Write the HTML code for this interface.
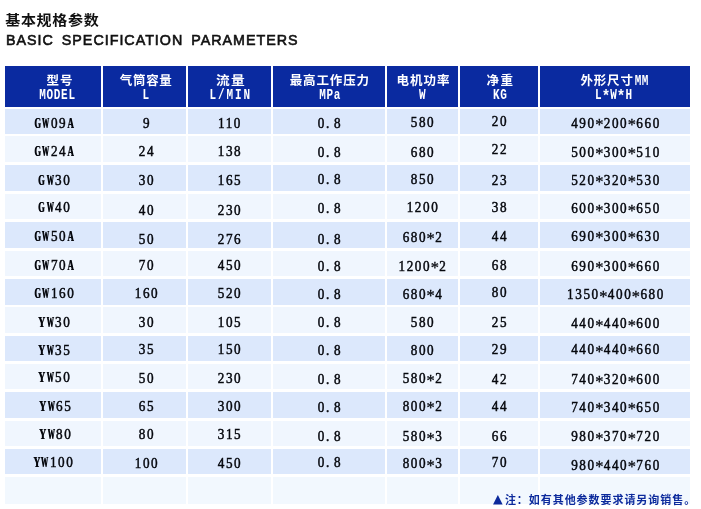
<!DOCTYPE html>
<html lang="zh-CN">
<head>
<meta charset="utf-8">
<title>基本规格参数</title>
<style>

html,body{margin:0;padding:0;background:#fff;}
body{width:701px;height:509px;position:relative;overflow:hidden;font-family:"Liberation Sans","Noto Sans CJK SC",sans-serif;}
.page{position:absolute;left:0;top:0;width:701px;height:509px;will-change:transform;}
.t1{position:absolute;left:5.2px;top:8.6px;font:bold 15px/22px "Liberation Sans","Noto Sans CJK SC",sans-serif;letter-spacing:0.7px;color:#111;white-space:nowrap;transform:scaleY(0.93);transform-origin:0 50%;}
.t2{position:absolute;left:6px;top:29.4px;font:normal 14.3px/22px "Liberation Sans","Noto Sans CJK SC",sans-serif;letter-spacing:0.99px;word-spacing:3px;color:#111;-webkit-text-stroke:0.6px #111;white-space:nowrap;}
.hd{position:absolute;top:66px;height:41px;background:#0a2aa0;}
.hc,.he{position:absolute;width:200px;margin-left:-100px;text-align:center;color:#fff;white-space:nowrap;}
.hc{top:72.3px;font:bold 12.5px/18px "Liberation Sans","Noto Sans CJK SC",sans-serif;}
.hc .mm{font:bold 11px/18px "Liberation Mono","Noto Sans CJK SC",monospace;display:inline-block;transform:scaleY(1.28);transform-origin:50% 72%;letter-spacing:0.4px;margin-left:1px;}
.he{top:88px;font:bold 11px/16px "Liberation Mono","Noto Sans CJK SC",monospace;transform:scaleY(1.3);transform-origin:50% 72%;}
.he .ha{display:inline-block;transform:translateY(1.3px) scale(1.3,1.15);}
.bd{position:absolute;left:5px;width:685px;}
.sp{position:absolute;top:60px;height:449px;background:#fff;}
.d{background:#dce8fc;}
.l{background:#f0f6fe;}
.f{background:#f2f8fe;}
.v{position:absolute;width:160px;margin-left:-80px;text-align:center;font:normal 14px/20px "Liberation Serif","Noto Serif CJK SC",serif;letter-spacing:1.67px;color:#06080e;-webkit-text-stroke:0.48px #06080e;white-space:nowrap;transform:scaleX(0.94);}
.v .k{display:inline-block;width:8.67px;text-align:left;font-weight:bold;-webkit-text-stroke:0;text-shadow:0.7px 0 0 #06080e;transform-origin:0 72%;}
.v .kG{transform:scale(.64,1.1);position:relative;left:-0.4px;}
.v .kW{transform:scale(.55,1.1);position:relative;left:-0.7px;}
.v .kA{transform:scale(.67,1.1);position:relative;left:0px;}
.v .kY{transform:scale(.74,1.1);position:relative;left:-0.5px;}
.v .p{display:inline-block;width:8.67px;text-align:left;}
.v .a{display:inline-block;width:8.67px;text-align:left;text-indent:-0.5px;font-size:17.5px;line-height:17px;position:relative;top:2.6px;-webkit-text-stroke:0.3px #06080e;}
.note{position:absolute;left:490.5px;top:493.1px;font:bold 11px/14px "Liberation Sans","Noto Sans CJK SC",sans-serif;color:#0c2a9c;letter-spacing:0.95px;white-space:nowrap;}
.note .tri{text-decoration:none;font:normal 12.6px/14px "DejaVu Sans","Noto Sans CJK SC",sans-serif;letter-spacing:0;display:inline-block;vertical-align:top;width:11.9px;margin-left:2.5px;position:relative;top:-1.6px;}

</style>
</head>
<body>
<div class="page">
<div class="t1">基本规格参数</div>
<div class="t2">BASIC SPECIFICATION PARAMETERS</div>
<div class="hd" style="left:5px;width:685px"></div>
<div class="hc" style="left:59.90px;letter-spacing:0.8px">型号</div>
<div class="he" style="left:57.45px;letter-spacing:0.7px">MODEL</div>
<div class="hc" style="left:146.15px;letter-spacing:0.7px">气筒容量</div>
<div class="he" style="left:145.80px;letter-spacing:0.0px">L</div>
<div class="hc" style="left:230.57px;letter-spacing:1.14px;transform:scaleX(1.1)">流量</div>
<div class="he" style="left:230.65px;letter-spacing:1.9px">L/MIN</div>
<div class="hc" style="left:329.82px;letter-spacing:0.85px">最高工作压力</div>
<div class="he" style="left:330.10px;letter-spacing:0.6px">MPa</div>
<div class="hc" style="left:423.60px;letter-spacing:1.0px">电机功率</div>
<div class="he" style="left:422.20px;letter-spacing:0.0px">W</div>
<div class="hc" style="left:500.50px;letter-spacing:1.4px">净重</div>
<div class="he" style="left:500.35px;letter-spacing:0.7px">KG</div>
<div class="hc" style="left:614.60px;letter-spacing:0.8px">外形尺寸<span class="mm">MM</span></div>
<div class="he" style="left:614.00px;letter-spacing:1.0px">L<span class="ha">*</span>W<span class="ha">*</span>H</div>
<div class="bd d" style="top:108.9px;height:25.6px"></div>
<div class="bd l" style="top:136.4px;height:26.1px"></div>
<div class="bd d" style="top:164.9px;height:26.6px"></div>
<div class="bd l" style="top:193.9px;height:25.6px"></div>
<div class="bd d" style="top:222.0px;height:26.3px"></div>
<div class="bd l" style="top:250.9px;height:25.5px"></div>
<div class="bd d" style="top:279.0px;height:25.5px"></div>
<div class="bd l" style="top:307.4px;height:25.6px"></div>
<div class="bd d" style="top:335.9px;height:25.1px"></div>
<div class="bd l" style="top:363.9px;height:25.6px"></div>
<div class="bd d" style="top:391.8px;height:26.2px"></div>
<div class="bd l" style="top:420.9px;height:25.5px"></div>
<div class="bd d" style="top:449.3px;height:25.2px"></div>
<div class="bd f" style="top:477.0px;height:26.7px"></div>
<div class="sp" style="left:101px;width:2px"></div>
<div class="sp" style="left:186px;width:2px"></div>
<div class="sp" style="left:271px;width:2px"></div>
<div class="sp" style="left:385px;width:2px"></div>
<div class="sp" style="left:458px;width:2px"></div>
<div class="sp" style="left:538px;width:2px"></div>
<div class="v" style="left:54.6px;top:113.90px"><span class="k kG">G</span><span class="k kW">W</span>09<span class="k kA">A</span></div>
<div class="v" style="left:147.3px;top:113.90px">9</div>
<div class="v" style="left:230.3px;top:113.90px">110</div>
<div class="v" style="left:330.3px;top:113.90px">0<span class="p">.</span>8</div>
<div class="v" style="left:422.5px;top:113.20px">580</div>
<div class="v" style="left:499.5px;top:112.30px">20</div>
<div class="v" style="left:616.0px;top:113.90px">490<span class="a">*</span>200<span class="a">*</span>660</div>
<div class="v" style="left:54.6px;top:142.20px"><span class="k kG">G</span><span class="k kW">W</span>24<span class="k kA">A</span></div>
<div class="v" style="left:147.3px;top:142.20px">24</div>
<div class="v" style="left:230.3px;top:142.20px">138</div>
<div class="v" style="left:330.3px;top:142.90px">0<span class="p">.</span>8</div>
<div class="v" style="left:422.5px;top:142.70px">680</div>
<div class="v" style="left:499.5px;top:140.30px">22</div>
<div class="v" style="left:616.0px;top:142.70px">500<span class="a">*</span>300<span class="a">*</span>510</div>
<div class="v" style="left:54.6px;top:171.00px"><span class="k kG">G</span><span class="k kW">W</span>30</div>
<div class="v" style="left:147.3px;top:171.00px">30</div>
<div class="v" style="left:230.3px;top:171.00px">165</div>
<div class="v" style="left:330.3px;top:169.80px">0<span class="p">.</span>8</div>
<div class="v" style="left:422.5px;top:169.80px">850</div>
<div class="v" style="left:499.5px;top:171.00px">23</div>
<div class="v" style="left:616.0px;top:170.50px">520<span class="a">*</span>320<span class="a">*</span>530</div>
<div class="v" style="left:54.6px;top:198.30px"><span class="k kG">G</span><span class="k kW">W</span>40</div>
<div class="v" style="left:147.3px;top:200.70px">40</div>
<div class="v" style="left:230.3px;top:200.70px">230</div>
<div class="v" style="left:330.3px;top:198.80px">0<span class="p">.</span>8</div>
<div class="v" style="left:422.5px;top:198.10px">1200</div>
<div class="v" style="left:499.5px;top:198.30px">38</div>
<div class="v" style="left:616.0px;top:199.20px">600<span class="a">*</span>300<span class="a">*</span>650</div>
<div class="v" style="left:54.6px;top:227.20px"><span class="k kG">G</span><span class="k kW">W</span>50<span class="k kA">A</span></div>
<div class="v" style="left:147.3px;top:230.10px">50</div>
<div class="v" style="left:230.3px;top:230.10px">276</div>
<div class="v" style="left:330.3px;top:229.60px">0<span class="p">.</span>8</div>
<div class="v" style="left:422.5px;top:227.50px">680<span class="a">*</span>2</div>
<div class="v" style="left:499.5px;top:227.20px">44</div>
<div class="v" style="left:616.0px;top:226.80px">690<span class="a">*</span>300<span class="a">*</span>630</div>
<div class="v" style="left:54.6px;top:255.70px"><span class="k kG">G</span><span class="k kW">W</span>70<span class="k kA">A</span></div>
<div class="v" style="left:147.3px;top:255.70px">70</div>
<div class="v" style="left:230.3px;top:255.70px">450</div>
<div class="v" style="left:330.3px;top:256.90px">0<span class="p">.</span>8</div>
<div class="v" style="left:422.5px;top:256.70px">1200<span class="a">*</span>2</div>
<div class="v" style="left:499.5px;top:256.20px">68</div>
<div class="v" style="left:616.0px;top:256.70px">690<span class="a">*</span>300<span class="a">*</span>660</div>
<div class="v" style="left:54.6px;top:283.80px"><span class="k kG">G</span><span class="k kW">W</span>160</div>
<div class="v" style="left:147.3px;top:284.00px">160</div>
<div class="v" style="left:230.3px;top:284.00px">520</div>
<div class="v" style="left:330.3px;top:285.00px">0<span class="p">.</span>8</div>
<div class="v" style="left:422.5px;top:284.50px">680<span class="a">*</span>4</div>
<div class="v" style="left:499.5px;top:282.80px">80</div>
<div class="v" style="left:616.0px;top:285.20px">1350<span class="a">*</span>400<span class="a">*</span>680</div>
<div class="v" style="left:54.9px;top:312.80px"><span class="k kY">Y</span><span class="k kW">W</span>30</div>
<div class="v" style="left:147.3px;top:312.80px">30</div>
<div class="v" style="left:230.3px;top:312.80px">105</div>
<div class="v" style="left:330.3px;top:313.20px">0<span class="p">.</span>8</div>
<div class="v" style="left:422.5px;top:313.20px">580</div>
<div class="v" style="left:499.5px;top:313.20px">25</div>
<div class="v" style="left:616.0px;top:314.00px">440<span class="a">*</span>440<span class="a">*</span>600</div>
<div class="v" style="left:54.9px;top:340.80px"><span class="k kY">Y</span><span class="k kW">W</span>35</div>
<div class="v" style="left:147.3px;top:340.00px">35</div>
<div class="v" style="left:230.3px;top:340.00px">150</div>
<div class="v" style="left:330.3px;top:341.20px">0<span class="p">.</span>8</div>
<div class="v" style="left:422.5px;top:341.20px">800</div>
<div class="v" style="left:499.5px;top:339.60px">29</div>
<div class="v" style="left:616.0px;top:340.00px">440<span class="a">*</span>440<span class="a">*</span>660</div>
<div class="v" style="left:54.9px;top:368.30px"><span class="k kY">Y</span><span class="k kW">W</span>50</div>
<div class="v" style="left:147.3px;top:368.60px">50</div>
<div class="v" style="left:230.3px;top:368.60px">230</div>
<div class="v" style="left:330.3px;top:369.50px">0<span class="p">.</span>8</div>
<div class="v" style="left:422.5px;top:369.00px">580<span class="a">*</span>2</div>
<div class="v" style="left:499.5px;top:369.50px">42</div>
<div class="v" style="left:616.0px;top:370.20px">740<span class="a">*</span>320<span class="a">*</span>600</div>
<div class="v" style="left:55.6px;top:396.80px"><span class="k kY">Y</span><span class="k kW">W</span>65</div>
<div class="v" style="left:147.3px;top:396.80px">65</div>
<div class="v" style="left:230.3px;top:396.80px">300</div>
<div class="v" style="left:330.3px;top:398.00px">0<span class="p">.</span>8</div>
<div class="v" style="left:422.5px;top:396.80px">800<span class="a">*</span>2</div>
<div class="v" style="left:499.5px;top:396.60px">44</div>
<div class="v" style="left:616.0px;top:397.80px">740<span class="a">*</span>340<span class="a">*</span>650</div>
<div class="v" style="left:55.6px;top:424.90px"><span class="k kY">Y</span><span class="k kW">W</span>80</div>
<div class="v" style="left:147.3px;top:424.90px">80</div>
<div class="v" style="left:230.3px;top:424.90px">315</div>
<div class="v" style="left:330.3px;top:426.80px">0<span class="p">.</span>8</div>
<div class="v" style="left:422.5px;top:427.20px">580<span class="a">*</span>3</div>
<div class="v" style="left:499.5px;top:427.20px">66</div>
<div class="v" style="left:616.0px;top:427.20px">980<span class="a">*</span>370<span class="a">*</span>720</div>
<div class="v" style="left:53.8px;top:452.70px"><span class="k kY">Y</span><span class="k kW">W</span>100</div>
<div class="v" style="left:147.3px;top:453.90px">100</div>
<div class="v" style="left:230.3px;top:453.90px">450</div>
<div class="v" style="left:330.3px;top:453.40px">0<span class="p">.</span>8</div>
<div class="v" style="left:422.5px;top:454.30px">800<span class="a">*</span>3</div>
<div class="v" style="left:499.5px;top:452.90px">70</div>
<div class="v" style="left:616.0px;top:455.70px">980<span class="a">*</span>440<span class="a">*</span>760</div>
<div class="note"><span class="tri">▲</span>注：如有其他参数要求请另询销售。</div>
</div>
</body></html>
